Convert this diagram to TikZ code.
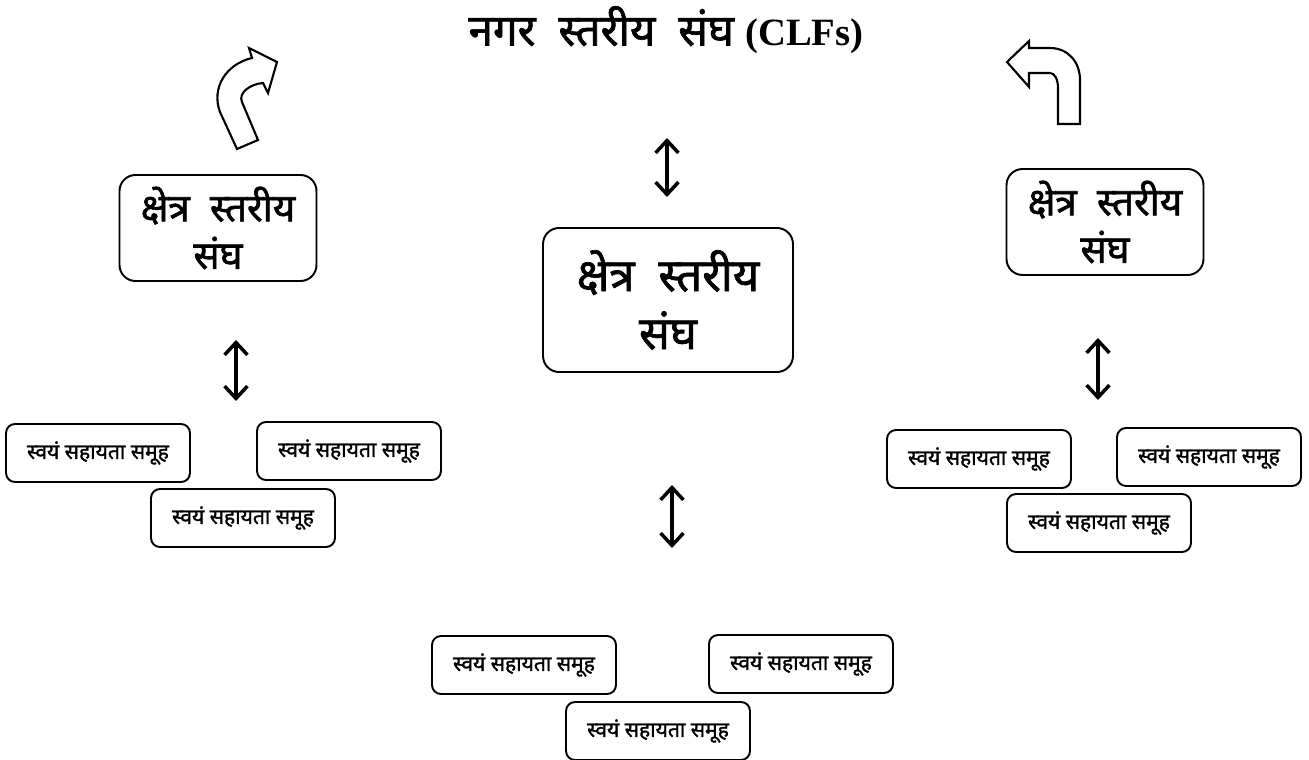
\documentclass[tikz,border=0pt]{standalone}
\usepackage{fontspec}
\setmainfont{Liberation Serif}
\newfontfamily\hindi[Script=Devanagari,FakeBold=1.5]{Noto Sans}
\usetikzlibrary{arrows.meta}

\begin{document}
\begin{tikzpicture}[x=0.02cm, y=-0.02cm, line width=1.1pt,
    big/.style = {draw, rounded corners=0.32cm, minimum width=3.94cm, minimum height=2.12cm, align=center, font=\hindi\fontsize{22}{27}\selectfont},
    mid/.style = {big, minimum width=5cm, minimum height=2.88cm, font=\hindi\fontsize{26}{33}\selectfont},
    shg/.style = {draw, rounded corners=0.18cm, minimum width=3.68cm, minimum height=1.16cm, font=\hindi\fontsize{12}{14}\selectfont},
    link/.style = {{Straight Barb[length=7pt,width=13pt]}-{Straight Barb[length=7pt,width=13pt]}, line width=2pt},
    turn/.style = {draw, line width=1.2pt, line join=miter}]
    \useasboundingbox (0,0) rectangle (1309,760);

    % title
    \node (t) at (666,30) {\hindi\fontsize{25}{30}\selectfont नगर\ \ स्तरीय\ \ संघ {\rmfamily\bfseries\fontsize{22}{26}\selectfont (CLFs)}};

    % federations
    \node[big] (l) at (218,228) {क्षेत्र\ \ स्तरीय\\संघ};
    \node[mid] (m) at (668,300) {क्षेत्र\ \ स्तरीय\\संघ};
    \node[big] (r) at (1105,222) {क्षेत्र\ \ स्तरीय\\संघ};

    % self help groups
    \node[shg] (l1) at (98,453) {स्वयं\ सहायता\ समूह};
    \node[shg] (l2) at (349,451) {स्वयं\ सहायता\ समूह};
    \node[shg] (l3) at (243,518) {स्वयं\ सहायता\ समूह};
    \node[shg] (r1) at (979,459) {स्वयं\ सहायता\ समूह};
    \node[shg] (r2) at (1209,457) {स्वयं\ सहायता\ समूह};
    \node[shg] (r3) at (1099,523) {स्वयं\ सहायता\ समूह};
    \node[shg] (b1) at (524,665) {स्वयं\ सहायता\ समूह};
    \node[shg] (b2) at (801,664) {स्वयं\ सहायता\ समूह};
    \node[shg] (b3) at (658,731) {स्वयं\ सहायता\ समूह};

    % double arrows
    \coordinate (a1) at (667,138); \coordinate (a2) at (667,197);
    \coordinate (a3) at (236,340); \coordinate (a4) at (236,401);
    \coordinate (a5) at (1098,338); \coordinate (a6) at (1098,400);
    \coordinate (a7) at (672,485); \coordinate (a8) at (672,548);
    \draw[link] (a1) -- (a2);
    \draw[link] (a3) -- (a4);
    \draw[link] (a5) -- (a6);
    \draw[link] (a7) -- (a8);

    % bent arrows
    \draw[turn] (237,149) -- (220,112) .. controls (211,88) and (226,64) .. (252,58)
        -- (249,48) -- (277,62) -- (268,93) -- (263,83)
        .. controls (250,84) and (238,93) .. (242,102) -- (258,140) -- cycle;
    \draw[turn] (1029,48) -- (1050,48) .. controls (1068,48) and (1080,62) .. (1080,80)
        -- (1080,124) -- (1058,124) -- (1058,88) .. controls (1058,80) and (1055,73) .. (1050,73)
        -- (1029,73) -- (1029,87) -- (1007,62) -- (1029,41) -- cycle;
\end{tikzpicture}
\end{document}
